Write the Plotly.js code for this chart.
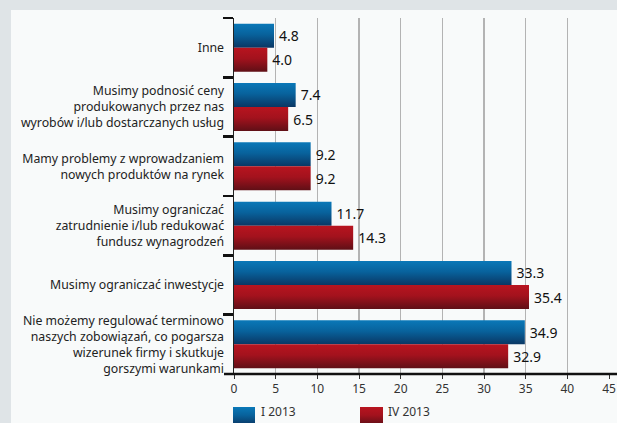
<!DOCTYPE html>
<html><head><meta charset="utf-8">
<script src="https://cdn.plot.ly/plotly-3.0.1.min.js"></script>
<style>html,body{margin:0;padding:0;background:#dfe4e7;}#chart{width:617px;height:423px;}</style>
</head><body><div id="chart"></div>
<script>
const categories = [
  "Inne",
  "Musimy podnosić ceny<br>produkowanych przez nas<br>wyrobów i/lub dostarczanych usług",
  "Mamy problemy z wprowadzaniem<br>nowych produktów na rynek",
  "Musimy ograniczać<br>zatrudnienie i/lub redukować<br>fundusz wynagrodzeń",
  "Musimy ograniczać inwestycje",
  "Nie możemy regulować terminowo<br>naszych zobowiązań, co pogarsza<br>wizerunek firmy i skutkuje<br>gorszymi warunkami"
];
const seriesNames = ["I 2013", "IV 2013"];
const valuesI2013 = [4.8, 7.4, 9.2, 11.7, 33.3, 34.9];
const valuesIV2013 = [4.0, 6.5, 9.2, 14.3, 35.4, 32.9];
const xTicks = [0, 5, 10, 15, 20, 25, 30, 35, 40, 45];

const W = 617, H = 423, L = 234, R = 609, T = 18, B = 374;
const px = v => (v - L) / (R - L);
const py = v => (B - v) / (B - T);

const font = "Noto Sans, Open Sans, sans-serif";
const mk = (name, vals, color) => ({
  type: "bar", orientation: "h", name: name, y: categories, x: vals,
  marker: {color: color, line: {width: 0}},
  text: vals.map(v => v.toFixed(1)), textposition: "outside",
  textfont: {family: font, size: 14, color: "#111"}, cliponaxis: false,
  hoverinfo: "x"
});
const data = [mk(seriesNames[0], valuesI2013, "#0b5f95"), mk(seriesNames[1], valuesIV2013, "#9a1420")];

const layout = {
  width: W, height: H,
  margin: {l: L, r: W - R, t: T, b: H - B},
  paper_bgcolor: "#dfe4e7", plot_bgcolor: "rgba(0,0,0,0)",
  barmode: "group", bargap: 0.19, bargroupgap: 0,
  showlegend: false,
  font: {family: font, size: 12, color: "#222"},
  xaxis: {range: [0, 45], tickvals: xTicks, showgrid: true, gridcolor: "#b3b3b3", gridwidth: 1.5,
    zeroline: false, showline: false, ticks: "outside", ticklen: 4, tickcolor: "#333",
    tickfont: {family: font, size: 12, color: "#333"}, fixedrange: true},
  yaxis: {type: "category", autorange: "reversed", tickson: "boundaries", ticks: "outside",
    ticklen: 10, tickwidth: 2.5, tickcolor: "#111", showline: true, linecolor: "#222", linewidth: 1.5,
    showgrid: false, tickfont: {family: font, size: 12.3, color: "#222"}, ticklabelstandoff: 6, fixedrange: true},
  shapes: [
    {type: "rect", xref: "paper", yref: "paper", x0: px(11), x1: px(617), y0: py(423), y1: py(10),
     fillcolor: "#f8fafa", line: {width: 0}, layer: "below"},
    {type: "line", xref: "paper", yref: "paper", x0: px(224), x1: px(617), y0: 0, y1: 0,
     line: {color: "#111", width: 2.5}},
    {type: "rect", xref: "paper", yref: "paper", x0: px(233), x1: px(255), y0: py(425), y1: py(407),
     fillcolor: "#0b5f95", line: {width: 0}},
    {type: "rect", xref: "paper", yref: "paper", x0: px(360), x1: px(383), y0: py(425), y1: py(407),
     fillcolor: "#9a1420", line: {width: 0}}
  ],
  annotations: [
    {xref: "paper", yref: "paper", x: px(259), y: py(411), xanchor: "left", yanchor: "middle",
     text: seriesNames[0], showarrow: false, font: {family: font, size: 12, color: "#333"}},
    {xref: "paper", yref: "paper", x: px(386), y: py(411), xanchor: "left", yanchor: "middle",
     text: seriesNames[1], showarrow: false, font: {family: font, size: 12, color: "#333"}}
  ]
};

Plotly.newPlot("chart", data, layout, {displayModeBar: false, staticPlot: true}).then(gd => {
  const svg = gd.querySelector("svg.main-svg");
  const ns = "http://www.w3.org/2000/svg";
  let defs = svg.querySelector("defs");
  const addGrad = (id, c1, c2, c3) => {
    const g = document.createElementNS(ns, "linearGradient");
    g.setAttribute("id", id); g.setAttribute("x1", "0"); g.setAttribute("y1", "0");
    g.setAttribute("x2", "0"); g.setAttribute("y2", "1");
    [[0, c1], [0.45, c2], [1, c3]].forEach(([o, c]) => {
      const s = document.createElementNS(ns, "stop");
      s.setAttribute("offset", o); s.setAttribute("stop-color", c); g.appendChild(s);
    });
    defs.appendChild(g);
  };
  addGrad("gBlue", "#0a78b8", "#08629c", "#0a3764");
  addGrad("gRed", "#b8141f", "#a3121d", "#5f0f16");
  const traces = gd.querySelectorAll(".barlayer .trace");
  traces.forEach((t, i) => {
    t.querySelectorAll("path").forEach(p => { p.style.fill = i === 0 ? "url(#gBlue)" : "url(#gRed)"; });
    t.querySelectorAll("text").forEach(tx => {
      const tr = tx.getAttribute("transform") || "";
      tx.setAttribute("transform", "translate(2,0) " + tr);
    });
  });
  const lg = gd.querySelectorAll(".shapelayer path");
  lg.forEach(p => {
    const f = p.style.fill;
    if (f && f.indexOf("rgb(11, 95, 149)") >= 0) p.style.fill = "url(#gBlue)";
    if (f && f.indexOf("rgb(154, 20, 32)") >= 0) p.style.fill = "url(#gRed)";
  });
});
</script></body></html>
